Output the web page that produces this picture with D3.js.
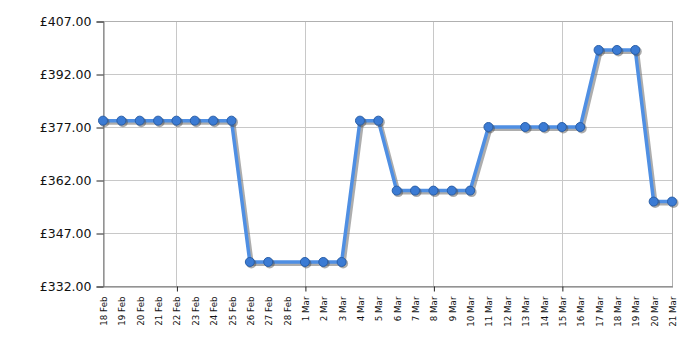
<!DOCTYPE html>
<html>
<head>
<meta charset="utf-8">
<script src="https://cdn.jsdelivr.net/npm/d3@7"></script>
<style>
  body { margin: 0; background: #fff; }
  svg { display: block; }
  text { font-family: "DejaVu Sans", Verdana, sans-serif; fill: #111; }
</style>
</head>
<body>
<div id="chart"></div>
<script>
const width = 700, height = 350;
const margin = {top: 21, right: 28, bottom: 64, left: 103};

// one entry per day, 18 Feb .. 21 Mar; null = no price recorded
const dates = ["18 Feb","19 Feb","20 Feb","21 Feb","22 Feb","23 Feb","24 Feb","25 Feb","26 Feb","27 Feb","28 Feb",
    "1 Mar","2 Mar","3 Mar","4 Mar","5 Mar","6 Mar","7 Mar","8 Mar","9 Mar","10 Mar","11 Mar","12 Mar","13 Mar",
    "14 Mar","15 Mar","16 Mar","17 Mar","18 Mar","19 Mar","20 Mar","21 Mar"];
const prices = [378.8,378.8,378.8,378.8,378.8,378.8,378.8,378.8,338.8,338.8,null,
    338.8,338.8,338.8,378.8,378.8,359.0,359.0,359.0,359.0,359.0,377.0,null,377.0,
    377.0,377.0,377.0,398.8,398.8,398.8,355.9,355.9];
const yTicks = [332, 347, 362, 377, 392, 407];
const gridDates = ["22 Feb", "1 Mar", "8 Mar", "15 Mar"];

const data = dates.map((d, i) => ({date: d, i: i, price: prices[i]})).filter(d => d.price !== null);

const svg = d3.select("#chart").append("svg")
    .attr("width", width).attr("height", height);

const x = d3.scaleLinear()
    .domain([0, dates.length - 1])
    .range([margin.left, width - margin.right]);

const y = d3.scaleLinear()
    .domain([332, 407])
    .range([height - margin.bottom, margin.top]);

// gridlines
svg.append("g")
    .selectAll("line")
    .data(yTicks)
    .join("line")
    .attr("x1", margin.left).attr("x2", width - margin.right)
    .attr("y1", d => y(d) + 0.5).attr("y2", d => y(d) + 0.5)
    .attr("stroke", "#c8c8c8");

svg.append("g")
    .selectAll("line")
    .data(gridDates)
    .join("line")
    .attr("x1", d => Math.round(x(dates.indexOf(d))) + 0.5)
    .attr("x2", d => Math.round(x(dates.indexOf(d))) + 0.5)
    .attr("y1", margin.top).attr("y2", height - margin.bottom)
    .attr("stroke", "#c8c8c8");

// plot border
svg.append("rect")
    .attr("x", margin.left + 0.5).attr("y", margin.top + 0.5)
    .attr("width", width - margin.right - margin.left)
    .attr("height", height - margin.bottom - margin.top)
    .attr("fill", "none")
    .attr("stroke", "#b0b0b0");

// y axis
const yAxis = svg.append("g")
    .attr("transform", `translate(${margin.left + 0.5},0.5)`)
    .call(d3.axisLeft(y).tickValues(yTicks).tickSize(7).tickPadding(5)
        .tickFormat(d => "£" + d3.format(".2f")(d)));
yAxis.select(".domain").attr("stroke", "#777");
yAxis.selectAll(".tick line").attr("stroke", "#222");
yAxis.selectAll("text").style("font-size", "12.5px").attr("fill", "#111");

// x axis
const xAxis = svg.append("g")
    .attr("transform", `translate(0.5,${height - margin.bottom + 0.5})`)
    .call(d3.axisBottom(x).tickValues(d3.range(dates.length)).tickSize(0)
        .tickFormat(i => dates[i]));
xAxis.select(".domain").attr("stroke", "#777");
xAxis.selectAll("text")
    .style("font-size", "8.7px")
    .attr("text-anchor", "end")
    .attr("transform", "rotate(-90)")
    .attr("x", -10).attr("y", 0).attr("dy", "0.35em");
xAxis.selectAll(".tick")
    .filter(i => gridDates.includes(dates[i]))
    .append("line")
    .attr("y2", 5)
    .attr("stroke", "#222");

const line = d3.line()
    .x(d => x(d.i))
    .y(d => y(d.price));

// shadow
svg.append("path")
    .datum(data)
    .attr("fill", "none")
    .attr("stroke", "#777")
    .attr("stroke-opacity", 0.6)
    .attr("stroke-width", 4)
    .attr("stroke-linejoin", "round")
    .attr("transform", "translate(2,2)")
    .attr("d", line);

svg.append("path")
    .datum(data)
    .attr("fill", "none")
    .attr("stroke", "#4f8fe3")
    .attr("stroke-width", 3.5)
    .attr("stroke-linejoin", "round")
    .attr("d", line);

svg.append("g")
    .selectAll("circle")
    .data(data)
    .join("circle")
    .attr("cx", d => x(d.i) + 1.5)
    .attr("cy", d => y(d.price) + 1.5)
    .attr("r", 5)
    .attr("fill", "#444")
    .attr("fill-opacity", 0.45);

svg.append("g")
    .selectAll("circle")
    .data(data)
    .join("circle")
    .attr("cx", d => x(d.i))
    .attr("cy", d => y(d.price))
    .attr("r", 4.5)
    .attr("fill", "#3b7bd4")
    .attr("stroke", "#2a5fa8")
    .attr("stroke-width", 1);
</script>
</body>
</html>
